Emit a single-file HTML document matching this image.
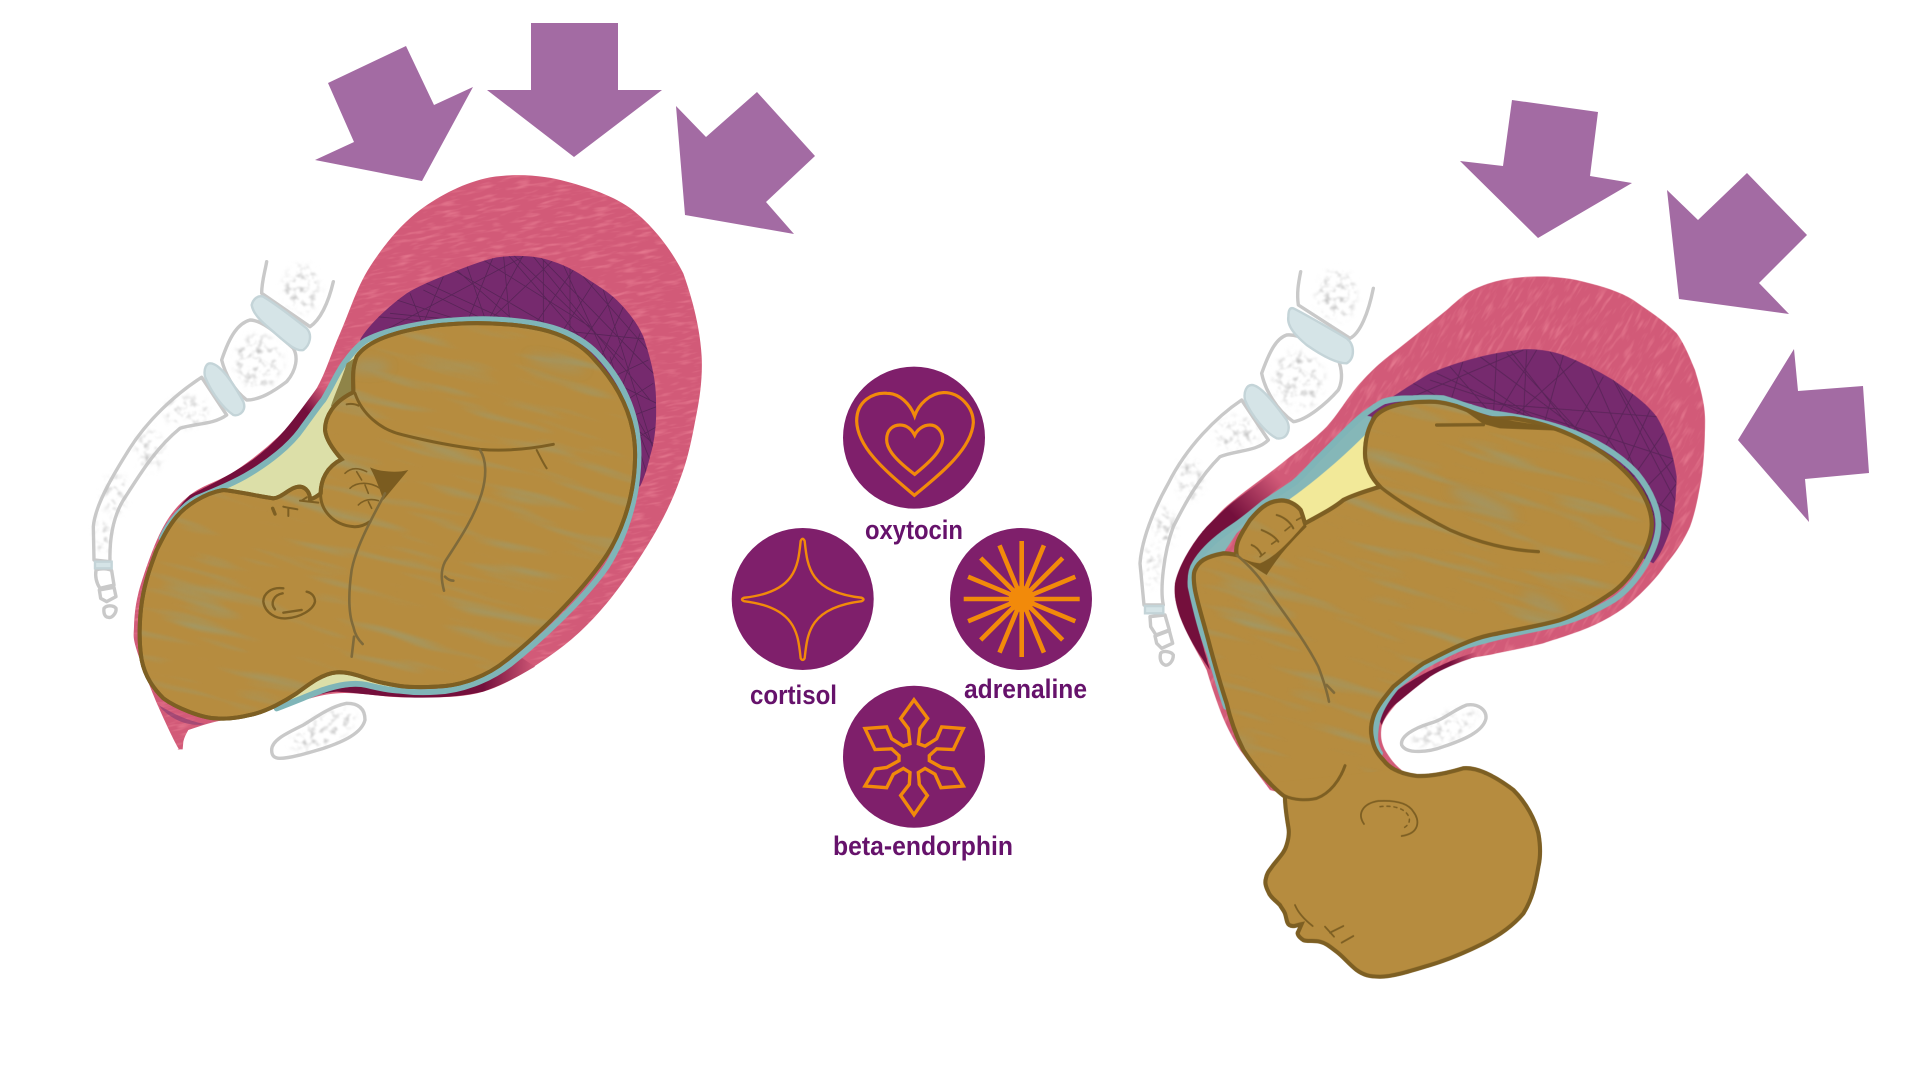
<!DOCTYPE html>
<html><head><meta charset="utf-8"><title>Labour hormones diagram</title>
<style>
html,body{margin:0;padding:0;background:#fff;width:1920px;height:1080px;overflow:hidden}
svg{display:block}
path,line,ellipse{vector-effect:non-scaling-stroke}
text{font-family:"Liberation Sans",sans-serif;font-weight:700;font-size:27px;fill:#66126b}
.ar{fill:#a36ba3}
.bone{fill:#fff;stroke:#c9c9c9;stroke-width:3.4;stroke-linejoin:round;stroke-linecap:round}
.disc{fill:#d5e4e7;stroke:#c4d4d8;stroke-width:2.4}
.baby{fill:#b68c3f;stroke:#7d5f23;stroke-width:4;stroke-linejoin:round}
.ln{fill:none;stroke:#7d5f23;stroke-width:3;stroke-linecap:round;stroke-linejoin:round}
.thin{fill:none;stroke:#7d5f23;stroke-width:1.6;stroke-linecap:round;stroke-linejoin:round}
.faint{fill:none;stroke:#7f6a3a;stroke-width:2.6;stroke-linecap:round;stroke-linejoin:round}
.teal{fill:none;stroke:#7fb5b8;stroke-width:6;stroke-linejoin:round;stroke-linecap:round}
.hatch{fill:none;stroke:#4e2350;stroke-width:.8;opacity:.75}
.ic{fill:none;stroke:#f28a0a;stroke-linejoin:miter}
</style></head>
<body>
<svg width="1920" height="1080" viewBox="0 0 1920 1080" xmlns="http://www.w3.org/2000/svg">
<defs>
<filter id="fleck" x="0" y="0" width="1" height="1" color-interpolation-filters="sRGB">
<feTurbulence type="fractalNoise" baseFrequency=".018 .09" numOctaves="2" seed="4"/>
<feColorMatrix type="matrix" values="0 0 0 0 .95  0 0 0 0 .55  0 0 0 0 .62  1.5 0 0 0 -.74"/>
</filter>
<filter id="streak" x="0" y="0" width="1" height="1" color-interpolation-filters="sRGB">
<feTurbulence type="fractalNoise" baseFrequency=".0035 .028" numOctaves="2" seed="11"/>
<feColorMatrix type="matrix" values="0 0 0 0 .58  0 0 0 0 .63  0 0 0 0 .5  1.5 0 0 0 -.8"/>
<feGaussianBlur stdDeviation="2"/>
</filter>
<filter id="spk" x="-10%" y="-10%" width="120%" height="120%" color-interpolation-filters="sRGB">
<feGaussianBlur in="SourceAlpha" stdDeviation="10" result="b"/>
<feTurbulence type="fractalNoise" baseFrequency=".05" numOctaves="2" seed="7"/>
<feColorMatrix type="matrix" values="0 0 0 0 .76  0 0 0 0 .76  0 0 0 0 .76  2.6 0 0 0 -1.25"/>
<feGaussianBlur stdDeviation="2"/>
<feComposite in2="b" operator="in"/>
</filter>
<filter id="bl" x="-40%" y="-150%" width="180%" height="400%"><feGaussianBlur stdDeviation="16"/></filter>
<linearGradient id="mL" gradientUnits="userSpaceOnUse" x1="590" y1="490" x2="700" y2="385"><stop offset=".45" stop-color="#740f3c"/><stop offset="1" stop-color="#d25a78"/></linearGradient>
<linearGradient id="mLb" gradientUnits="userSpaceOnUse" x1="1180" y1="0" x2="1340" y2="0"><stop offset="0" stop-color="#740f3c"/><stop offset="1" stop-color="#d25a78"/></linearGradient>
<linearGradient id="mR" gradientUnits="userSpaceOnUse" x1="270" y1="760" x2="430" y2="610"><stop offset=".2" stop-color="#740f3c"/><stop offset="1" stop-color="#d25a78"/></linearGradient>
<linearGradient id="mRb" gradientUnits="userSpaceOnUse" x1="960" y1="0" x2="1040" y2="0"><stop offset="0" stop-color="#740f3c"/><stop offset="1" stop-color="#d25a78"/></linearGradient>

<path id="pL" d="M268 1470 C250 1440 225 1385 205 1340 S152 1210 140 1170 S131 1128 132 1100 S135 1040 145 1000 S189 859 215 810 S263 735 300 705 S393 662 440 630 S540 556 580 515 S652 434 680 385 S723 281 750 220 S800 82 840 20 S930 -105 990 -150 S1127 -234 1200 -248 C1290 -262 1370 -252 1430 -235 C1505 -215 1590 -185 1640 -140 C1700 -90 1750 -20 1780 40 C1805 110 1830 200 1835 290 C1838 350 1830 410 1820 460 S1800 572 1780 630 S1738 743 1700 810 S1602 968 1550 1030 S1452 1136 1390 1180 S1253 1273 1180 1295 S1023 1311 950 1312 S806 1295 740 1300 S622 1329 555 1345 S385 1381 340 1395 L295 1410 Q283 1430 280 1445 L278 1468 L262 1468Z"/>
<path id="purL" d="M810 240 C825 210 880 150 950 100 C985 78 1030 60 1080 40 C1130 20 1175 2 1220 -8 C1280 -16 1340 -14 1390 5 C1430 18 1460 35 1490 55 C1520 75 1555 95 1580 120 C1620 160 1645 195 1660 230 C1680 290 1700 360 1698 430 C1700 490 1695 540 1680 590 C1672 625 1662 655 1650 680 L1000 400Z"/>
<path id="babyL" d="M400 690 C450 695 510 710 550 715 C580 712 600 680 630 680 C650 682 660 700 660 718 C670 716 680 710 692 700 C692 660 710 620 755 598 C730 570 708 540 705 510 C705 470 730 425 790 397 C790 360 785 330 800 290 C830 245 910 212 1050 195 C1100 190 1150 188 1200 190 C1330 195 1440 215 1510 295 C1590 380 1640 480 1635 600 C1632 720 1590 830 1540 900 C1470 1000 1340 1130 1250 1200 C1190 1250 1110 1278 1040 1280 C1000 1282 960 1282 930 1278 C890 1272 850 1262 830 1255 C800 1245 770 1235 740 1237 C700 1240 660 1270 620 1300 C590 1320 530 1355 480 1365 C440 1375 410 1378 380 1375 C340 1375 260 1345 220 1315 C190 1285 165 1250 155 1200 C145 1140 148 1060 160 1000 C170 950 185 910 200 870 C220 830 235 800 260 770 C285 740 340 700 400 690Z"/>
<path id="pR" d="M135 940 C145 890 185 820 230 770 C260 740 275 720 300 700 C360 650 420 610 480 560 C520 530 550 510 590 470 C630 425 650 385 690 340 C730 295 760 270 800 240 C850 200 900 160 950 120 C990 85 1010 65 1050 50 C1110 25 1170 20 1230 20 C1280 20 1320 25 1360 35 C1420 50 1470 65 1510 90 C1560 125 1600 150 1640 190 C1665 225 1680 265 1695 300 C1710 350 1725 400 1725 450 C1725 510 1722 570 1715 620 C1705 680 1695 730 1680 770 C1660 815 1635 850 1610 880 C1580 925 1540 965 1500 1000 C1450 1040 1390 1070 1330 1090 C1290 1105 1260 1112 1240 1120 C1200 1130 1150 1140 1100 1150 C1060 1160 1030 1160 1000 1170 C960 1185 930 1200 900 1220 C860 1250 830 1275 800 1300 C775 1330 760 1350 755 1370 C750 1400 755 1420 765 1440 C780 1465 795 1485 815 1500 L500 1580 L420 1560 C390 1520 360 1480 330 1440 C305 1400 285 1360 270 1320 C255 1280 240 1235 230 1200 C205 1150 175 1105 150 1040 C140 1010 130 975 135 940Z"/>
<path id="purR" d="M700 445 C740 410 840 345 900 310 C960 285 1060 250 1180 238 C1220 236 1260 242 1300 255 C1350 275 1400 300 1450 330 C1500 365 1545 395 1580 440 C1610 490 1630 550 1640 620 C1638 680 1635 730 1620 780 C1605 825 1590 855 1570 880 L1000 600Z"/>
<path id="babyR" d="M750 650 C725 625 705 590 705 550 C705 510 715 470 735 440 C770 400 850 395 900 395 C960 395 1010 420 1060 440 C1090 450 1120 443 1150 445 C1250 458 1400 510 1500 620 C1545 670 1568 725 1565 770 C1562 830 1510 920 1450 965 C1400 1000 1350 1030 1290 1050 C1220 1070 1150 1080 1080 1095 C1010 1110 940 1150 880 1180 C850 1200 820 1225 790 1250 C765 1280 740 1310 730 1340 C722 1365 722 1385 725 1400 C730 1430 740 1450 760 1470 C775 1490 800 1510 860 1518 C900 1520 950 1510 1000 1495 C1050 1490 1110 1530 1150 1560 C1190 1600 1215 1650 1225 1690 C1232 1730 1232 1760 1225 1790 C1215 1850 1205 1890 1180 1930 C1150 1965 1110 1995 1060 2020 C1000 2050 950 2070 900 2085 C850 2100 790 2120 750 2120 C720 2120 700 2115 680 2100 C655 2080 640 2060 620 2045 C600 2030 590 2020 570 2015 C550 2010 530 2015 520 2010 C505 2000 500 1990 505 1985 L515 1962 C500 1965 490 1972 478 1965 C470 1960 470 1945 465 1930 C460 1918 455 1915 450 1905 C435 1890 420 1880 415 1865 C405 1845 405 1835 408 1825 C412 1805 420 1800 430 1785 C450 1760 465 1745 470 1725 C478 1700 478 1685 475 1670 C470 1640 465 1610 465 1580 C450 1570 435 1555 420 1540 C390 1510 365 1480 340 1440 C315 1390 300 1345 290 1300 C270 1240 255 1185 240 1130 C225 1070 205 1010 195 960 C190 930 190 910 195 900 C205 875 225 860 280 850 C295 850 310 853 320 855 C315 830 320 810 360 750 C385 720 410 695 445 692 C475 688 500 705 512 720 C518 735 520 745 525 760 C570 735 610 715 640 690 C680 670 720 660 750 650Z"/>
<clipPath id="cPL"><use href="#pL"/></clipPath>
<clipPath id="cPR"><use href="#pR"/></clipPath>
<clipPath id="cPurL"><use href="#purL"/></clipPath>
<clipPath id="cPurR"><use href="#purR"/></clipPath>
<clipPath id="cBabyL"><use href="#babyL"/></clipPath>
<clipPath id="cBabyR"><use href="#babyR"/></clipPath>
</defs>

<!-- arrows -->
<polygon class="ar" points="406,46 434,105 473,87 422,181 315,160 354,142 328,83"/>
<polygon class="ar" points="531,23 618,23 618,90 662,90 574,157 487,90 531,90"/>
<polygon class="ar" points="757,92 815,156 766,202 794,234 685,215 676,106 706,137"/>
<polygon class="ar" points="1512,100 1598,112 1590,176 1632,183 1538,238 1460,161 1503,166"/>
<polygon class="ar" points="1747,173 1807,235 1759,283 1789,314 1679,299 1667,190 1698,220"/>
<polygon class="ar" points="1794,349 1798,391 1863,386 1869,473 1805,479 1809,522 1738,440"/>

<!-- LEFT -->
<g transform="matrix(.33333 0 0 .33333 90 260)">
<path class="bone" d="M530 5 C525 35 515 65 515 100 L660 200 C690 180 715 130 730 65"/>
<path class="bone" d="M480 180 C445 190 420 225 395 300 C405 340 430 390 470 420 C510 420 550 395 590 365 C620 330 625 290 610 265 C570 230 520 180 480 180Z"/>
<path class="bone" d="M335 352 C260 400 170 480 110 580 C60 660 15 740 10 800 L12 900 L60 905 C58 830 70 770 100 720 C140 660 190 570 270 505 C310 490 370 495 410 465Z"/>
<path class="bone" d="M18 930 C30 925 55 925 65 932 L72 975 L30 985 C20 970 15 950 18 930Z"/>
<path class="bone" d="M28 990 L72 982 L78 1010 L50 1025 L32 1015Z"/>
<path class="bone" d="M42 1045 C50 1035 70 1035 78 1045 C80 1060 65 1075 55 1072 C45 1072 40 1060 42 1045Z"/>
<path class="disc" d="M520 110 C545 125 600 165 650 205 C668 225 660 255 640 270 C620 275 595 255 550 215 C520 190 490 165 485 135 C490 115 505 105 520 110Z"/>
<path class="disc" d="M360 310 C390 310 430 370 460 425 C470 450 450 470 430 465 C400 445 365 400 345 350 C340 325 350 310 360 310Z"/>
<path class="disc" d="M15 905 H65 V925 H15Z"/>
<path class="bone" d="M545 1470 C545 1440 590 1420 640 1395 C680 1370 720 1340 770 1330 C810 1330 825 1350 825 1380 C815 1420 760 1445 700 1465 C650 1480 600 1495 570 1495 C550 1495 545 1485 545 1470Z"/>
<g filter="url(#spk)"><ellipse cx="635" cy="85" rx="55" ry="70"/><ellipse cx="505" cy="305" rx="70" ry="80"/><ellipse cx="290" cy="455" rx="65" ry="45"/><ellipse cx="180" cy="570" rx="40" ry="60"/><ellipse cx="75" cy="700" rx="35" ry="60"/><ellipse cx="38" cy="820" rx="22" ry="60"/><ellipse cx="700" cy="1410" rx="105" ry="42" transform="rotate(-28 700 1410)"/></g>
<use href="#pL" fill="#d25a78"/>
<g clip-path="url(#cPL)"><rect x="-100" y="-500" width="2300" height="2100" transform="rotate(-10 900 500)" filter="url(#fleck)"/></g>
<path fill="url(#mL)" d="M205 865 C225 800 260 745 300 705 C340 685 400 655 440 630 C500 595 545 555 580 515 C610 480 640 440 680 385 L720 375 L700 420 C670 460 640 500 640 500 C600 560 530 610 480 640 C440 665 380 690 320 715 C280 735 235 790 215 835Z"/>
<path fill="url(#mLb)" d="M555 1345 C620 1325 680 1300 740 1295 C800 1298 870 1310 950 1312 C1040 1315 1120 1310 1180 1295 C1250 1270 1300 1240 1335 1220 L1290 1190 C1200 1260 1110 1290 1040 1295 L830 1275 L700 1290 L560 1335Z"/>
<path d="M205 1335 C250 1362 300 1385 345 1392 C300 1402 240 1380 205 1335Z" fill="#8a3d70" opacity=".65"/>
<use href="#purL" fill="#762a6e"/>
<g clip-path="url(#cPurL)"><path class="hatch" d="M830 240 L1300 -10 M860 170 L1180 200 M920 120 L1140 190 M960 100 L1000 200 M1010 70 L1250 180 M1060 50 L1000 190 M1090 30 L1400 210 M1130 15 L1190 190 M1180 0 L1500 200 M1210 -10 L1130 190 M1240 -20 L1260 190 M1270 -15 L1600 300 M1300 -15 L1190 190 M1330 -10 L1680 420 M1360 0 L1360 200 M1390 0 L1200 180 M1420 15 L1650 520 M1450 30 L1330 200 M1480 50 L1700 300 M1510 70 L1420 210 M1540 90 L1700 600 M1570 110 L1480 240 M1600 140 L1530 300 M1630 180 L1550 330 M1650 220 L1590 400 M1675 300 L1570 350 M1690 370 L1610 420 M1700 440 L1620 470 M1700 500 L1630 540 M1690 560 L1620 440 M1680 600 L1640 500 M1670 640 L1560 290 M1000 90 L1700 430 M900 160 L1690 240 M1100 30 L1700 560 M1250 -20 L1530 300 M1440 20 L1440 220 M1350 -10 L1700 350"/></g>
<path fill="#dcdfa8" d="M215 835 C235 790 280 735 320 715 C380 690 440 665 480 640 C530 610 600 560 640 500 C670 460 690 430 700 420 C730 370 745 330 770 300 C785 280 805 255 830 240 C880 215 960 195 1050 185 C1150 175 1260 180 1330 195 L1000 1000 L930 1292 C890 1290 850 1280 830 1275 C800 1268 760 1270 700 1290 C660 1305 620 1322 560 1345 L400 1300Z"/>
<path class="teal" d="M215 835 C235 790 280 735 320 715 C380 690 440 665 480 640 C530 610 600 560 640 500 C670 460 690 430 700 420 C730 370 745 330 770 300 C785 280 805 255 830 240 C880 215 960 195 1050 185 C1100 180 1150 177 1200 178 C1340 183 1450 205 1525 285 C1605 370 1650 480 1645 600 C1642 725 1600 840 1550 920 C1480 1020 1350 1140 1260 1212 C1195 1262 1110 1292 1040 1295 C1000 1298 960 1296 930 1292 C890 1290 850 1280 830 1275 C800 1268 760 1270 700 1290 C660 1305 620 1322 560 1345"/>
<path fill="#8f8448" d="M770 310 L800 290 L790 397 L722 440 C735 400 755 360 770 310Z"/>
<use href="#babyL" class="baby"/>
<g clip-path="url(#cBabyL)">
<rect x="-100" y="-100" width="2000" height="1700" transform="rotate(14 800 700)" filter="url(#streak)"/>
<g fill="#8fa08a" opacity=".45" filter="url(#bl)"><ellipse cx="840" cy="320" rx="60" ry="18"/><ellipse cx="1400" cy="310" rx="90" ry="12" transform="rotate(14 1400 310)"/></g>
</g>
<use href="#babyL" fill="none" stroke="#7d5f23" stroke-width="4"/>
<path fill="#7b5c20" d="M840 622 C870 635 920 640 955 630 L880 720 C870 690 860 660 840 622Z"/>
<path class="ln" d="M755 598 C710 620 692 660 692 700 C690 750 730 795 790 800 C810 802 825 795 840 785"/>
<path class="thin" d="M765 640 C780 625 800 620 830 635 M780 685 C800 665 840 665 870 685 M805 735 C820 720 840 715 865 722 M800 635 L815 660 M825 675 L835 700 M835 725 L845 745"/>
<path class="ln" d="M795 400 C815 460 870 510 940 525 C1020 545 1100 560 1170 568 C1250 575 1330 565 1390 553"/>
<path class="ln" style="stroke-width:2" d="M1340 570 C1350 590 1360 610 1370 625 M770 433 C785 430 795 432 805 437 M580 740 C600 745 610 745 622 748 M595 745 L595 768 M630 722 L685 728 M650 712 L635 722"/>
<path class="ln" style="stroke-width:3.4" d="M548 745 L555 762"/>
<path class="faint" d="M1170 570 C1190 600 1190 650 1175 700 C1150 780 1100 850 1065 905 C1050 935 1055 965 1062 992 M1065 950 C1075 960 1085 962 1090 962 M885 700 C860 750 800 850 785 930 C775 1000 775 1060 790 1100 C795 1125 805 1140 818 1152 M792 1130 L785 1190"/>
<path class="ln" style="stroke-width:2.4" d="M580 985 C545 980 520 1000 520 1025 C525 1060 560 1078 590 1075 C630 1072 670 1050 675 1025 C675 1010 665 998 650 995 M578 1000 C550 1005 540 1030 555 1048 M580 1058 L635 1050"/>
</g>

<!-- RIGHT -->
<g transform="matrix(.33333 0 0 .33333 1130 270)">
<path class="bone" d="M512 5 C505 40 500 70 505 105 L660 205 C690 190 715 130 730 55"/>
<path class="bone" d="M470 195 C440 205 420 240 395 310 C405 360 440 420 490 455 C530 450 590 400 625 360 C640 330 635 295 625 270 C580 240 520 190 470 195Z"/>
<path class="bone" d="M335 390 C260 440 170 530 115 640 C70 720 35 810 30 880 L42 1005 L100 1005 C90 960 100 850 130 770 C170 690 210 620 270 560 C320 540 380 545 415 510Z"/>
<path class="bone" d="M60 1040 L105 1035 L118 1080 L78 1095 L62 1070Z"/>
<path class="bone" d="M75 1098 L118 1082 L128 1120 L95 1135 L80 1120Z"/>
<path class="bone" d="M92 1150 C100 1140 125 1145 130 1155 C130 1175 115 1188 105 1185 C92 1180 88 1165 92 1150Z"/>
<path class="disc" d="M490 115 C520 130 590 170 650 205 C675 225 675 265 650 280 C620 280 580 260 530 225 C500 200 470 170 475 140 C475 120 480 112 490 115Z"/>
<path class="disc" d="M365 345 C390 345 430 395 470 450 C485 480 470 510 440 505 C410 490 365 440 345 390 C340 365 350 345 365 345Z"/>
<path class="disc" d="M45 1008 H100 V1030 H45Z"/>
<path class="bone" d="M815 1425 C810 1400 850 1375 900 1360 C940 1350 970 1320 1010 1305 C1045 1300 1070 1320 1068 1345 C1060 1385 1000 1410 940 1430 C900 1445 830 1455 815 1425Z"/>
<g filter="url(#spk)"><ellipse cx="620" cy="75" rx="60" ry="75"/><ellipse cx="505" cy="330" rx="75" ry="85"/><ellipse cx="320" cy="490" rx="65" ry="50"/><ellipse cx="180" cy="630" rx="40" ry="60"/><ellipse cx="105" cy="770" rx="30" ry="60"/><ellipse cx="65" cy="890" rx="25" ry="60"/><ellipse cx="945" cy="1375" rx="105" ry="38" transform="rotate(-25 945 1375)"/></g>
<use href="#pR" fill="#d25a78"/>
<g clip-path="url(#cPR)"><rect x="-300" y="-500" width="2600" height="2400" transform="rotate(-58 1000 500)" filter="url(#fleck)"/></g>
<path fill="url(#mR)" d="M135 940 C145 890 185 820 230 770 C260 740 285 715 310 695 C350 665 400 630 440 600 L480 620 C420 680 350 730 300 770 C240 810 190 860 178 930 C180 990 205 1080 240 1200 C205 1150 175 1105 150 1040 C140 1010 130 975 135 940Z"/>
<path fill="url(#mRb)" d="M1040 1145 C960 1170 860 1215 790 1270 C770 1290 755 1320 748 1350 L755 1365 C765 1340 780 1315 800 1300 C830 1275 860 1250 900 1220 C940 1195 990 1175 1040 1160Z"/>
<use href="#purR" fill="#762a6e"/>
<g clip-path="url(#cPurR)"><path class="hatch" d="M800 400 L1180 240 M850 340 L1000 420 M920 310 L1260 470 M960 290 L1100 450 M1000 270 L960 400 M1050 260 L1400 520 M1100 250 L1090 440 M1140 240 L1340 500 M1190 240 L1180 450 M1220 240 L1100 440 M1260 245 L1510 620 M1300 255 L1240 470 M1340 270 L1140 450 M1380 290 L1560 700 M1420 320 L1320 500 M1460 340 L1640 640 M1510 370 L1420 540 M1560 420 L1480 600 M1600 490 L1510 620 M1630 570 L1540 660 M1640 640 L1565 740 M900 330 L1640 570 M1000 300 L1630 730 M820 380 L1580 440 M1130 250 L1620 780 M1450 330 L1640 700"/></g>
<path fill="#f2e999" d="M478 688 L712 488 L705 540 L750 650 L680 670 L525 760Z"/>
<path fill="#85b7b8" d="M195 880 C230 820 320 760 400 700 C480 640 560 570 700 435 L725 440 L712 488 C640 560 560 630 478 688 L420 695 L320 790 L280 850 L200 885Z"/>
<path class="teal" d="M288 1310 C270 1260 255 1200 235 1140 C215 1090 195 1010 182 950 C180 920 185 895 195 880 C215 845 250 810 310 770 C340 750 370 725 400 700 C430 680 460 660 490 640 C515 620 535 595 560 570 C590 540 615 515 640 490 C660 470 680 450 700 435 C720 420 740 405 760 395 C790 385 820 385 850 385 C880 382 910 383 940 385 C990 400 1040 420 1090 430 C1200 445 1400 480 1520 610 C1565 665 1588 725 1585 770 C1582 835 1525 940 1450 990 C1400 1020 1345 1045 1290 1060 C1230 1075 1170 1085 1110 1100 C1070 1110 1030 1120 1000 1130 C955 1150 915 1170 880 1190 C850 1210 825 1230 800 1250 C775 1280 755 1310 745 1340 C738 1360 735 1385 735 1410 C738 1425 742 1440 750 1450"/>
<use href="#babyR" class="baby"/>
<g clip-path="url(#cBabyR)">
<rect x="100" y="200" width="1700" height="1500" transform="rotate(16 900 900)" filter="url(#streak)"/>
<g fill="#8fa08a" opacity=".55" filter="url(#bl)"><ellipse cx="1060" cy="700" rx="110" ry="16" transform="rotate(24 1060 700)"/><ellipse cx="1240" cy="1000" rx="70" ry="12" transform="rotate(26 1240 1000)"/></g>
<rect x="320" y="1500" width="1000" height="700" fill="#b68c3f" transform="rotate(-6 800 1800)"/>
</g>
<use href="#babyR" fill="none" stroke="#7d5f23" stroke-width="4"/>
<path fill="#7b5c20" d="M980 405 L1060 462 L1110 475 L1290 482 L1260 470 L1100 445Z"/>
<path class="ln" style="stroke-width:3.4" d="M920 465 L1060 464 M750 650 C800 690 880 740 960 780 C1040 815 1130 840 1225 845"/>
<path fill="#7b5c20" d="M320 855 C340 870 370 878 390 880 C440 860 490 800 525 760 L530 770 C490 810 450 850 410 915 C385 900 350 875 320 855Z"/>
<path class="thin" style="stroke-width:2" d="M365 825 C380 830 390 845 395 855 M395 780 C420 790 435 800 445 815 M440 735 C460 740 480 755 490 775"/>
<path class="thin" d="M390 860 L405 848 M425 822 L442 810 M465 782 L480 770 M500 750 L515 742"/>
<path class="faint" d="M320 855 C350 880 390 920 420 970 C470 1040 530 1120 565 1190 C580 1230 590 1260 597 1295 M590 1245 L612 1268"/>
<path class="ln" d="M465 1578 C490 1590 530 1592 560 1585 C600 1570 630 1530 645 1487"/>
<path class="ln" style="stroke-width:1.8" d="M702 1662 C680 1630 700 1600 745 1593 C800 1590 835 1600 850 1625 C870 1650 870 1690 815 1698"/>
<path class="ln" style="stroke-width:1.5;stroke-dasharray:3 4" d="M750 1610 C790 1605 830 1615 838 1645 C840 1660 830 1670 818 1675"/>
<path class="ln" style="stroke-width:1.8" d="M495 1905 C505 1930 525 1950 548 1968 M585 1970 L612 2000 M640 1968 L600 1988 M670 1998 L635 2018"/>
</g>

<!-- hormone icons -->
<circle cx="914" cy="437.6" r="71" fill="#7f1f6b"/>
<circle cx="802.7" cy="599" r="71" fill="#7f1f6b"/>
<circle cx="1021" cy="599" r="71" fill="#7f1f6b"/>
<circle cx="914" cy="756.7" r="71" fill="#7f1f6b"/>
<g transform="matrix(.33333 0 0 .338 720 350)">
<path class="ic" style="stroke-width:3.2" d="M583 430 C500 360 412 290 410 210 C410 150 460 125 500 128 C540 128 570 160 584 195 C596 160 630 128 670 126 C720 125 760 170 760 215 C755 290 670 360 583 430Z"/>
<path class="ic" style="stroke-width:3.2" d="M584 368 C540 335 500 300 500 265 C500 235 520 222 540 222 C560 222 575 235 584 252 C592 235 610 222 630 222 C650 222 668 240 668 265 C665 300 625 335 584 368Z"/>
<path class="ic" style="stroke-width:2.4;stroke-linejoin:round" d="M254 565 C262 640 268 716 425 733 Q436 738 425 743 C268 762 262 838 254 912 Q248 922 242 912 C234 838 228 762 72 743 Q60 738 72 733 C228 716 234 640 242 565 Q248 552 254 565Z"/>
<path class="ic" style="stroke-width:3.4" d="M582 1035 L623 1090 L600 1120 L595 1165 L615 1172 L650 1150 L665 1115 L730 1120 L700 1182 L650 1180 L628 1200 L628 1215 L665 1235 L700 1240 L730 1290 L663 1295 L645 1255 L615 1238 L595 1250 L598 1285 L622 1318 L582 1375 L542 1318 L568 1285 L570 1250 L550 1238 L520 1255 L500 1295 L435 1290 L465 1240 L500 1235 L537 1215 L537 1200 L515 1180 L465 1182 L435 1120 L500 1115 L515 1150 L550 1172 L570 1165 L565 1120 L542 1090Z"/>
</g>
<g transform="translate(1021.7 599)" stroke="#f28a0a" stroke-width="4.6" fill="none">
<circle r="13" fill="#f28a0a" stroke="none"/>
<path d="M-58 0H58M0 -58V58M-41 -41L41 41M-41 41L41 -41M-53.6 -22.2L53.6 22.2M-53.6 22.2L53.6 -22.2M-22.2 -53.6L22.2 53.6M-22.2 53.6L22.2 -53.6"/>
</g>
<text x="865" y="539" textLength="98" lengthAdjust="spacingAndGlyphs">oxytocin</text>
<text x="750" y="704" textLength="87" lengthAdjust="spacingAndGlyphs">cortisol</text>
<text x="964" y="698" textLength="123" lengthAdjust="spacingAndGlyphs">adrenaline</text>
<text x="833" y="855" textLength="180" lengthAdjust="spacingAndGlyphs">beta-endorphin</text>
</svg>
</body></html>
